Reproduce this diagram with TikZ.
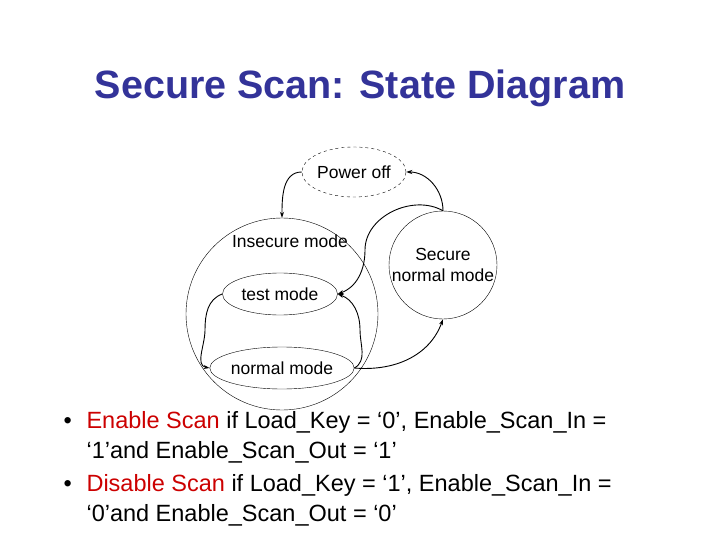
\documentclass[tikz,border=0pt]{standalone}
\usepackage{fontspec}
\setmainfont{Liberation Sans}
\usetikzlibrary{shapes.geometric,arrows.meta}
\definecolor{titleblue}{RGB}{51,51,153}
\definecolor{red1}{RGB}{204,0,0}
\begin{document}
\begin{tikzpicture}[x=1pt,y=-1pt,
  st/.style={draw,ellipse,inner sep=0pt,font=\fontsize{17.5}{17.5}\selectfont},
  arr/.style={-{Stealth[length=6pt,width=4pt]},line width=0.9pt},
  bl/.style={anchor=base west,font=\fontsize{23.5}{26}\selectfont}]
\useasboundingbox (0,0) rectangle (720,540);
\node[font=\bfseries\fontsize{39.5}{44}\selectfont,text=titleblue] (title) at (360,88) {Secure Scan: State Diagram};
\node[st,dashed,minimum width=95pt,minimum height=50pt] (po) at (354,172) {Power off};
\node[draw,circle,minimum size=192pt] (ins) at (282,314) {};
\node[font=\fontsize{17.5}{17.5}\selectfont] (inst) at (290,241) {Insecure mode};
\node[draw,circle,minimum size=108pt,inner sep=0pt,align=center,font=\fontsize{17.5}{21}\selectfont] (sec) at (443,265) {Secure\\normal mode};
\node[st,minimum width=115pt,minimum height=42pt] (tm) at (280,294) {test mode};
\node[st,minimum width=122pt,minimum height=42pt] (nm) at (282,368) {normal mode};
\draw[arr] (po.west) to[out=180,in=90] (ins.north);
\draw[arr] (sec.north) to[out=90,in=0] (po.east);
\draw[arr] (sec.north) to[out=150,in=90] (365,250) to[out=-90,in=20] (tm.east);
\draw[arr] (nm.east) to[out=30,in=-90] (360,330) to[out=90,in=-20] (tm.east);
\draw[arr] (tm.west) to[out=200,in=90] (205,330) to[out=-90,in=170] (nm.west);
\draw[arr] (nm.east) to[out=-5,in=-110] (sec.south);
\node[bl] (b1) at (60,428) {•};
\node[bl] (l1) at (83,428) {\textcolor{red1}{Enable Scan} if Load\_Key = ‘0’, Enable\_Scan\_In =};
\node[bl] (l2) at (83,458) {‘1’and Enable\_Scan\_Out = ‘1’};
\node[bl] (b2) at (60,491) {•};
\node[bl] (l3) at (83,491) {\textcolor{red1}{Disable Scan} if Load\_Key = ‘1’, Enable\_Scan\_In =};
\node[bl] (l4) at (83,521) {‘0’and Enable\_Scan\_Out = ‘0’};
\end{tikzpicture}
\end{document}
